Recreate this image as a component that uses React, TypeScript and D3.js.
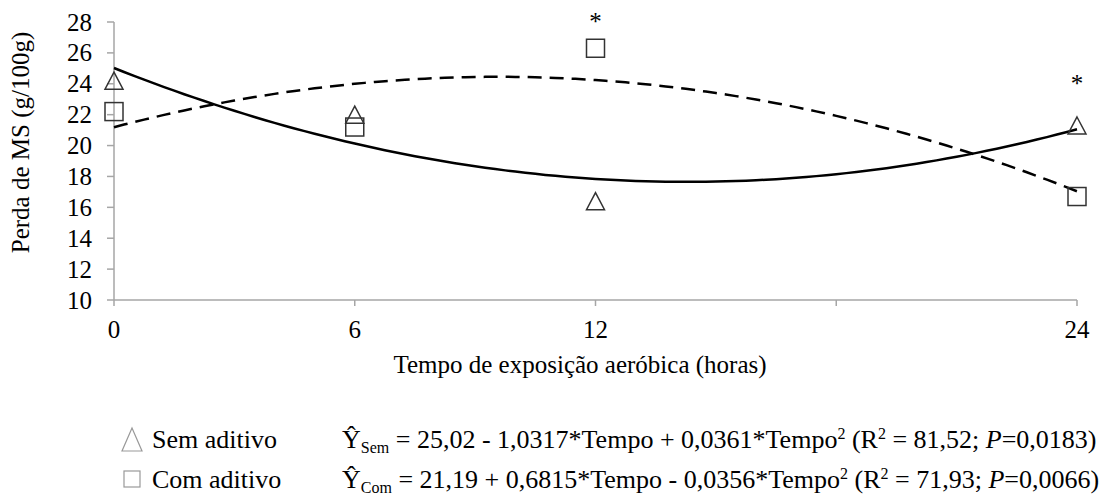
import React from "react";
import * as d3 from "d3";

const times = [0, 6, 12, 24];
const semAditivo = [24.2, 22.0, 16.4, 21.3];
const comAditivo = [22.2, 21.2, 26.3, 16.7];
const semCoef = [25.02, -1.0317, 0.0361];
const comCoef = [21.19, 0.6815, -0.0356];
const yTicks = [10, 12, 14, 16, 18, 20, 22, 24, 26, 28];
const xTickMarks = [0, 6, 12, 18, 24];
const xTickLabels = [0, 6, 12, 24];
const asterisks = [
  { t: 12, v: 28.25 },
  { t: 24, v: 24.25 },
];

const FONT = '"Liberation Serif"';
const TS = { fontFamily: FONT } as React.CSSProperties;

export default function App() {
  const W = 1110, H = 500;
  const x = d3.scaleLinear().domain([0, 24]).range([114, 1077]);
  const y = d3.scaleLinear().domain([10, 28]).range([300, 22]);
  const grid = d3.range(0, 24.01, 0.25);
  const poly = (c: number[]) => (t: number) => c[0] + c[1] * t + c[2] * t * t;
  const line = d3.line<[number, number]>();
  const semPath = line(grid.map((t) => [x(t), y(poly(semCoef)(t))] as [number, number]));
  const comPath = line(grid.map((t) => [x(t), y(poly(comCoef)(t))] as [number, number]));
  const tri = (cx: number, cy: number, w: number, h: number) =>
    `M${cx},${cy - h / 2}L${cx + w / 2},${cy + h / 2}L${cx - w / 2},${cy + h / 2}Z`;
  const axisColor = "#a6a6a6";
  const mk = "#333";
  const AF = 25;
  const LF = 26;
  const SF = 16;

  return (
    <svg width={W} height={H} style={{ position: "absolute", left: 0, top: 0, background: "#fff" }}>
      <rect width={W} height={H} fill="#fff" />
      {/* axes */}
      <line x1={x(0)} x2={x(0)} y1={y(28)} y2={y(10)} stroke={axisColor} strokeWidth={1.5} />
      <line x1={x(0)} x2={x(24)} y1={y(10)} y2={y(10)} stroke={axisColor} strokeWidth={1.5} />
      {yTicks.map((v) => (
        <g key={"y" + v}>
          <line x1={x(0) - 7} x2={x(0)} y1={y(v)} y2={y(v)} stroke={axisColor} strokeWidth={1.5} />
          <text style={TS} x={92} y={y(v)} dy="0.34em" textAnchor="end" fontSize={AF} fill="#000">{v}</text>
        </g>
      ))}
      {xTickMarks.map((t) => (
        <line key={"xt" + t} x1={x(t)} x2={x(t)} y1={y(10)} y2={y(10) + 6} stroke={axisColor} strokeWidth={1.5} />
      ))}
      {xTickLabels.map((t) => (
        <text style={TS} key={"xl" + t} x={x(t)} y={338} textAnchor="middle" fontSize={AF} fill="#000">{t}</text>
      ))}
      <text style={TS} transform="translate(29,142.5) rotate(-90)" textAnchor="middle" fontSize={AF} fill="#000">Perda de MS (g/100g)</text>
      <text style={TS} x={580} y={373} textAnchor="middle" fontSize={AF} fill="#000">Tempo de exposição aeróbica (horas)</text>

      {/* curves */}
      <path d={semPath || ""} fill="none" stroke="#000" strokeWidth={2.5} />
      <path d={comPath || ""} fill="none" stroke="#000" strokeWidth={2.5} strokeDasharray="14 8" />

      {/* markers */}
      {times.map((t, i) => (
        <path key={"s" + t} d={tri(x(t), y(semAditivo[i]), 18, 17)} fill="none" stroke={mk} strokeWidth={1.5} />
      ))}
      {times.map((t, i) => (
        <rect key={"c" + t} x={x(t) - 9} y={y(comAditivo[i]) - 9} width={18} height={18} fill="none" stroke={mk} strokeWidth={1.5} />
      ))}
      {asterisks.map((a) => (
        <text style={TS} key={"a" + a.t} x={x(a.t)} y={y(a.v) + 12} textAnchor="middle" fontSize={AF} fill="#000">*</text>
      ))}

      {/* legend */}
      <path d={tri(132, 439.5, 20, 23)} fill="none" stroke="#999" strokeWidth={1.2} />
      <rect x={124} y={471} width={16} height={16} fill="none" stroke="#999" strokeWidth={1.2} />
      <text style={TS} x={152} y={448} fontSize={LF} fill="#000">Sem aditivo</text>
      <text style={TS} x={152} y={488} fontSize={LF} fill="#000">Com aditivo</text>
      <text style={TS} x={342} y={448} fontSize={LF} fill="#000">
        Ŷ<tspan fontSize={SF} dy={5}>Sem</tspan><tspan dy={-5}> = 25,02 - 1,0317*Tempo + 0,0361*Tempo</tspan><tspan fontSize={SF} dy={-9}>2</tspan><tspan dy={9}> (R</tspan><tspan fontSize={SF} dy={-9}>2</tspan><tspan dy={9}> = 81,52; </tspan><tspan fontStyle="italic">P</tspan>=0,0183)
      </text>
      <text style={TS} x={342} y={488} fontSize={LF} fill="#000">
        Ŷ<tspan fontSize={SF} dy={5}>Com</tspan><tspan dy={-5}> = 21,19 + 0,6815*Tempo - 0,0356*Tempo</tspan><tspan fontSize={SF} dy={-9}>2</tspan><tspan dy={9}>  (R</tspan><tspan fontSize={SF} dy={-9}>2</tspan><tspan dy={9}> = 71,93; </tspan><tspan fontStyle="italic">P</tspan>=0,0066)
      </text>
    </svg>
  );
}
